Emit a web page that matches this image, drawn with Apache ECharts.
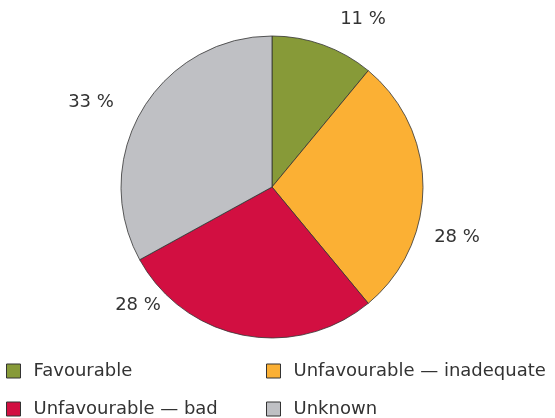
<!DOCTYPE html>
<html><head><meta charset="utf-8">
<script src="https://cdn.jsdelivr.net/npm/echarts@6/dist/echarts.min.js"></script>
<style>html,body{margin:0;padding:0;background:#fff}#c{width:555px;height:418px}</style>
</head><body><div id="c"></div>
<script>
const categories = ['Favourable', 'Unfavourable — inadequate', 'Unfavourable — bad', 'Unknown'];
const values = [11, 28, 28, 33];
const colors = ['#879a38', '#fbb034', '#d20f41', '#bfc0c4'];
// label offsets from pie centre (style only)
const labelOffsets = [[91, -168], [185, 50], [-134, 118], [-181, -85]];
// legend slot per category: [left, top]
const legendSlots = [[6, 362], [266, 362], [6, 400], [266, 400]];

const cx = 272, cy = 187;
const chart = echarts.init(document.getElementById('c'));
const fontFamily = "'DejaVu Sans', Verdana, sans-serif";
chart.setOption({
  animation: false,
  color: colors,
  legend: categories.map((n, i) => ({
    left: legendSlots[i][0], top: legendSlots[i][1], padding: 0,
    itemWidth: 14, itemHeight: 14, itemGap: 0,
    data: [n],
    icon: 'rect',
    itemStyle: { borderColor: '#333', borderWidth: 1 },
    textStyle: { fontFamily, fontSize: 18, color: '#333', padding: [0, 0, 0, 8] }
  })),
  series: [{
    type: 'pie',
    center: [cx, cy],
    radius: 151,
    startAngle: 90,
    clockwise: true,
    silent: true,
    itemStyle: { borderColor: '#333', borderWidth: 0.8 },
    label: {
      show: true, position: 'outside', formatter: '{c} %',
      fontFamily, fontSize: 18, color: '#333'
    },
    labelLine: { show: false },
    labelLayout: function (p) {
      const o = labelOffsets[p.dataIndex];
      return { x: cx + o[0], y: cy + o[1], align: 'center', verticalAlign: 'middle' };
    },
    data: categories.map((n, i) => ({ name: n, value: values[i] }))
  }]
});
</script></body></html>
